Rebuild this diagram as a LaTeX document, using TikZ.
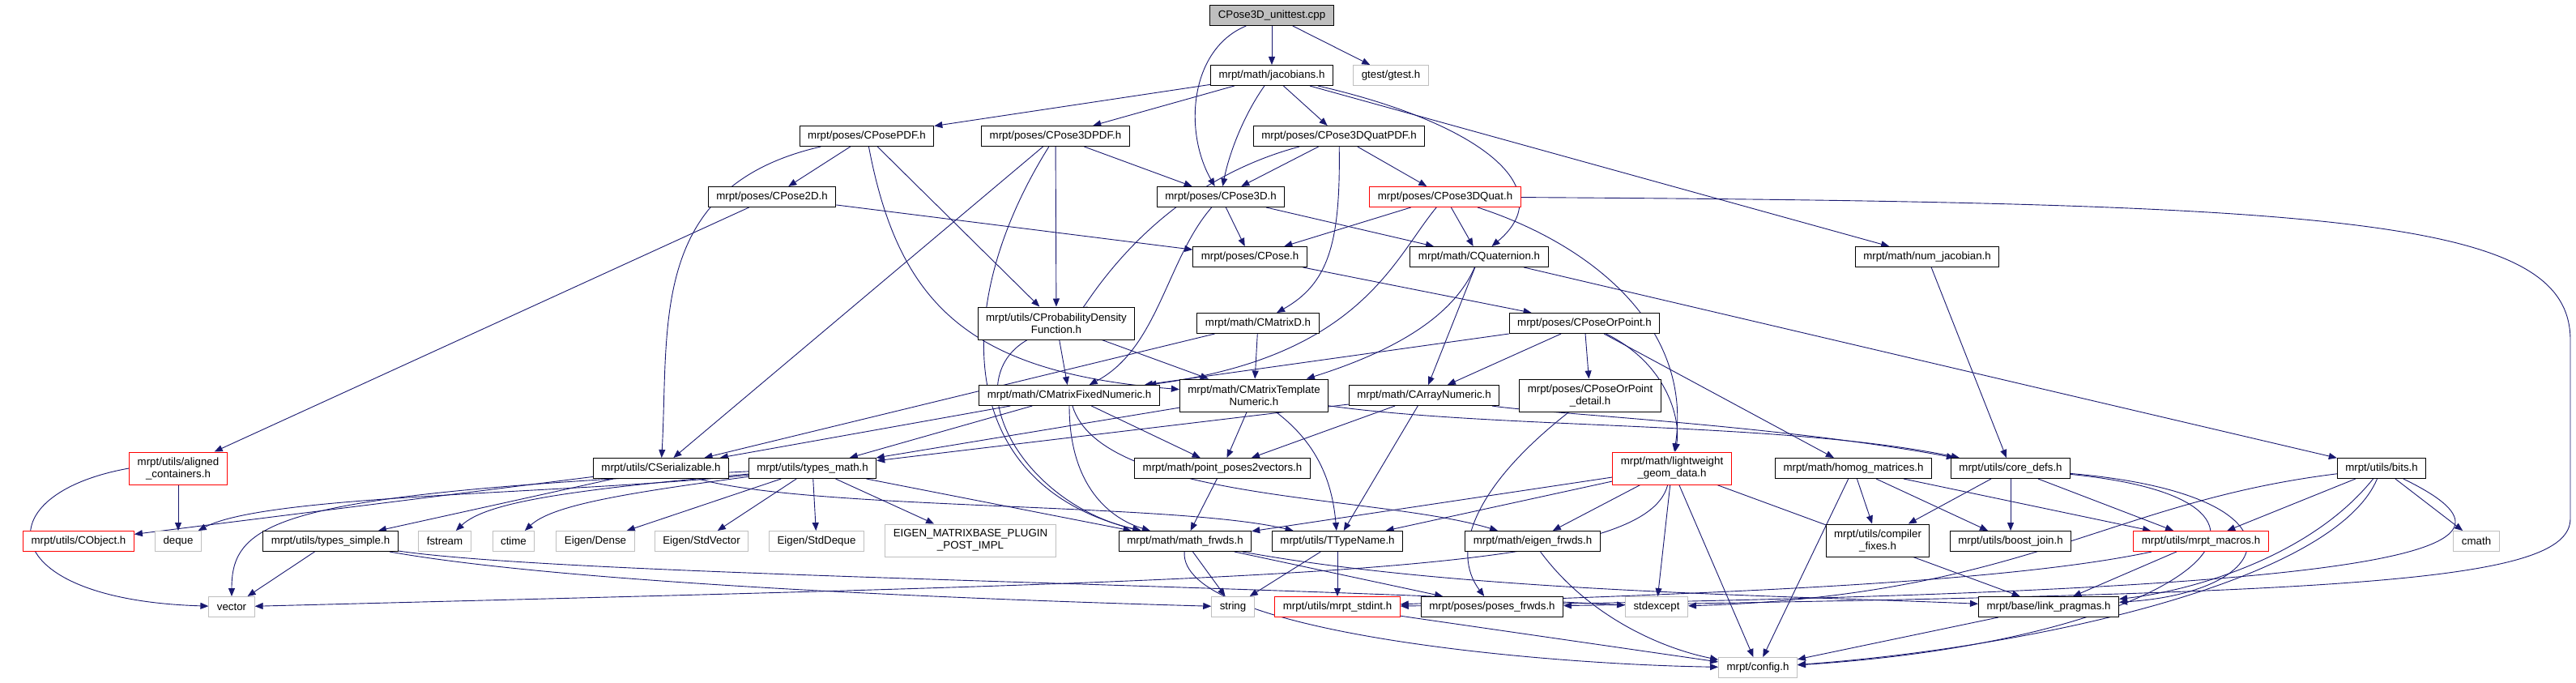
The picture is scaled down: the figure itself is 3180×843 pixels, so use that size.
\documentclass[tikz,border=0pt]{standalone}
\usepackage{fontspec}
\setmainfont{Liberation Sans}
\usetikzlibrary{arrows.meta}
\definecolor{edgeblue}{HTML}{191970}
\definecolor{sysgray}{HTML}{BFBFBF}
\pgfdeclarelayer{background}
\pgfsetlayers{background,main}
\begin{document}
\begin{tikzpicture}[x=1pt,y=-1pt,
  file/.style={draw=black,line width=1pt,fill=white,inner xsep=10pt,inner ysep=2pt,minimum height=25pt,align=center,font=\fontsize{13.3}{15}\selectfont},
  sysfile/.style={file,draw=sysgray},
  redfile/.style={file,draw=red},
  rootfile/.style={file,fill=sysgray},
  dep/.style={draw=edgeblue,line width=0.9pt,-{Triangle[length=10pt,width=8pt]}}]
\useasboundingbox (0,0) rectangle (3180,843);
\node[rootfile] (root) at (1570,19) {CPose3D\_unittest.cpp};
\node[file] (jac) at (1570,93) {mrpt/math/jacobians.h};
\node[sysfile] (gtest) at (1717,93) {gtest/gtest.h};
\node[file] (posepdf) at (1070,168) {mrpt/poses/CPosePDF.h};
\node[file] (pose3dpdf) at (1303,168) {mrpt/poses/CPose3DPDF.h};
\node[file] (quatpdf) at (1653,168) {mrpt/poses/CPose3DQuatPDF.h};
\node[file] (pose2d) at (953,243) {mrpt/poses/CPose2D.h};
\node[file] (pose3d) at (1507,243) {mrpt/poses/CPose3D.h};
\node[redfile] (pose3dquat) at (1784,243) {mrpt/poses/CPose3DQuat.h};
\node[file] (pose) at (1543,317) {mrpt/poses/CPose.h};
\node[file] (quat) at (1826,317) {mrpt/math/CQuaternion.h};
\node[file] (numjac) at (2379,317) {mrpt/math/num\_jacobian.h};
\node[file,minimum height=40pt] (probdens) at (1304,399) {mrpt/utils/CProbabilityDensity\\Function.h};
\node[file] (matd) at (1553,399) {mrpt/math/CMatrixD.h};
\node[file] (poseorpt) at (1956,399) {mrpt/poses/CPoseOrPoint.h};
\node[file] (matfixed) at (1320,488) {mrpt/math/CMatrixFixedNumeric.h};
\node[file,minimum height=40pt] (mattempl) at (1548,488) {mrpt/math/CMatrixTemplate\\Numeric.h};
\node[file] (arraynum) at (1758,488) {mrpt/math/CArrayNumeric.h};
\node[file,minimum height=40pt] (poseorptdet) at (1963,488) {mrpt/poses/CPoseOrPoint\\\_detail.h};
\node[redfile,minimum height=40pt] (aligned) at (220,578) {mrpt/utils/aligned\\\_containers.h};
\node[file] (serial) at (816,578) {mrpt/utils/CSerializable.h};
\node[file] (typesmath) at (1003,578) {mrpt/utils/types\_math.h};
\node[file] (pp2v) at (1509,578) {mrpt/math/point\_poses2vectors.h};
\node[redfile,minimum height=40pt] (lwgeom) at (2064,578) {mrpt/math/lightweight\\\_geom\_data.h};
\node[file] (homog) at (2288,578) {mrpt/math/homog\_matrices.h};
\node[file] (coredefs) at (2482,578) {mrpt/utils/core\_defs.h};
\node[file] (bits) at (2940,578) {mrpt/utils/bits.h};
\node[redfile] (cobject) at (97,668) {mrpt/utils/CObject.h};
\node[sysfile] (deque) at (220,668) {deque};
\node[file] (typessimple) at (408,668) {mrpt/utils/types\_simple.h};
\node[sysfile] (fstream) at (549,668) {fstream};
\node[sysfile] (ctime) at (634,668) {ctime};
\node[sysfile] (dense) at (735,668) {Eigen/Dense};
\node[sysfile] (stdvector) at (866,668) {Eigen/StdVector};
\node[sysfile] (stddeque) at (1008,668) {Eigen/StdDeque};
\node[sysfile,minimum height=40pt] (plugin) at (1198,667) {EIGEN\_MATRIXBASE\_PLUGIN\\\_POST\_IMPL};
\node[file] (mathfrwds) at (1463,668) {mrpt/math/math\_frwds.h};
\node[file] (ttypename) at (1651,668) {mrpt/utils/TTypeName.h};
\node[file] (eigenfrwds) at (1892,668) {mrpt/math/eigen\_frwds.h};
\node[file,minimum height=40pt] (compfix) at (2318,667) {mrpt/utils/compiler\\\_fixes.h};
\node[file] (boostjoin) at (2482,668) {mrpt/utils/boost\_join.h};
\node[redfile] (macros) at (2717,668) {mrpt/utils/mrpt\_macros.h};
\node[sysfile] (cmath) at (3057,668) {cmath};
\node[sysfile] (vector) at (286,749) {vector};
\node[sysfile] (string) at (1522,749) {string};
\node[redfile] (stdint) at (1651,749) {mrpt/utils/mrpt\_stdint.h};
\node[file] (posesfrwds) at (1842,749) {mrpt/poses/poses\_frwds.h};
\node[sysfile] (stdexcept) at (2045,749) {stdexcept};
\node[file] (linkprag) at (2529,749) {mrpt/base/link\_pragmas.h};
\node[sysfile] (config) at (2170,824) {mrpt/config.h};
\coordinate (rq1) at (3173,420);
\coordinate (rq2) at (3173,640);
\begin{pgfonlayer}{background}
\draw[dep] (root) -- (jac);
\draw[dep] (root) -- (gtest);
\draw[dep] (root) .. controls (1470,60) and (1460,160) .. (pose3d);
\draw[dep] (jac) -- (posepdf);
\draw[dep] (jac) -- (pose3dpdf);
\draw[dep] (jac) .. controls (1530,150) and (1515,200) .. (pose3d);
\draw[dep] (jac) -- (quatpdf);
\draw[dep] (jac) .. controls (1820,150) and (1930,230) .. (quat);
\draw[dep] (jac) -- (numjac);
\draw[dep] (posepdf) -- (pose2d);
\draw[dep] (posepdf) .. controls (800,230) and (826,400) .. (serial);
\draw[dep] (posepdf) -- (probdens);
\draw[dep] (posepdf) .. controls (1110,380) and (1200,460) .. (mattempl);
\draw[dep] (pose3dpdf) -- (pose3d);
\draw[dep] (pose3dpdf) -- (probdens);
\draw[dep] (pose3dpdf) -- (serial);
\draw[dep] (pose3dpdf) .. controls (1170,380) and (1180,600) .. (mathfrwds);
\draw[dep] (quatpdf) -- (pose3d);
\draw[dep] (quatpdf) -- (pose3dquat);
\draw[dep] (quatpdf) .. controls (1420,230) and (1340,380) .. (probdens);
\draw[dep] (quatpdf) .. controls (1655,300) and (1640,350) .. (matd);
\draw[dep] (pose3d) -- (pose);
\draw[dep] (pose3d) -- (quat);
\draw[dep] (pose3d) .. controls (1440,320) and (1430,430) .. (matfixed);
\draw[dep] (pose3dquat) -- (pose);
\draw[dep] (pose3dquat) -- (quat);
\draw[dep] (pose3dquat) .. controls (1720,320) and (1680,440) .. (matfixed);
\draw[dep] (pose3dquat) .. controls (1960,300) and (2090,400) .. (lwgeom);
\draw[dep] (pose3dquat) .. controls (2900,250) and (3173,270) .. (rq1) -- (rq2) .. controls (3173,720) and (2900,732) .. (posesfrwds);
\draw[dep] (pose2d) -- (pose);
\draw[dep] (pose2d) -- (aligned);
\draw[dep] (pose) -- (poseorpt);
\draw[dep] (quat) .. controls (1790,400) and (1700,440) .. (mattempl);
\draw[dep] (quat) -- (arraynum);
\draw[dep] (quat) -- (bits);
\draw[dep] (numjac) -- (coredefs);
\draw[dep] (probdens) -- (matfixed);
\draw[dep] (probdens) -- (mattempl);
\draw[dep] (probdens) .. controls (1180,470) and (1260,620) .. (mathfrwds);
\draw[dep] (matd) -- (serial);
\draw[dep] (matd) -- (mattempl);
\draw[dep] (poseorpt) -- (matfixed);
\draw[dep] (poseorpt) -- (arraynum);
\draw[dep] (poseorpt) -- (poseorptdet);
\draw[dep] (poseorpt) .. controls (2060,450) and (2075,520) .. (lwgeom);
\draw[dep] (poseorpt) -- (homog);
\draw[dep] (matfixed) -- (serial);
\draw[dep] (matfixed) -- (typesmath);
\draw[dep] (matfixed) -- (pp2v);
\draw[dep] (matfixed) .. controls (1320,600) and (1370,640) .. (mathfrwds);
\draw[dep] (matfixed) .. controls (1360,620) and (1700,610) .. (eigenfrwds);
\draw[dep] (mattempl) -- (typesmath);
\draw[dep] (mattempl) -- (pp2v);
\draw[dep] (mattempl) .. controls (1630,550) and (1645,600) .. (ttypename);
\draw[dep] (mattempl) .. controls (1850,530) and (2200,520) .. (coredefs);
\draw[dep] (arraynum) -- (typesmath);
\draw[dep] (arraynum) -- (pp2v);
\draw[dep] (arraynum) -- (ttypename);
\draw[dep] (arraynum) .. controls (1900,510) and (2200,525) .. (coredefs);
\draw[dep] (poseorptdet) .. controls (1820,600) and (1790,680) .. (posesfrwds);
\draw[dep] (aligned.west) .. controls (-20,610) and (-10,740) .. (vector);
\draw[dep] (aligned) -- (deque);
\draw[dep] (serial) -- (cobject);
\draw[dep] (serial) -- (typessimple);
\draw[dep] (serial) .. controls (1000,630) and (1450,620) .. (ttypename);
\draw[dep] (typesmath) .. controls (700,610) and (330,610) .. (deque);
\draw[dep] (typesmath) .. controls (350,610) and (286,640) .. (vector);
\draw[dep] (typesmath) .. controls (700,605) and (600,620) .. (fstream);
\draw[dep] (typesmath) .. controls (760,610) and (680,625) .. (ctime);
\draw[dep] (typesmath) -- (dense);
\draw[dep] (typesmath) -- (stdvector);
\draw[dep] (typesmath) -- (stddeque);
\draw[dep] (typesmath) -- (plugin);
\draw[dep] (typesmath) -- (mathfrwds);
\draw[dep] (pp2v) -- (mathfrwds);
\draw[dep] (lwgeom) -- (mathfrwds);
\draw[dep] (lwgeom) -- (ttypename);
\draw[dep] (lwgeom) -- (eigenfrwds);
\draw[dep] (lwgeom) -- (stdexcept);
\draw[dep] (lwgeom) -- (config);
\draw[dep] (lwgeom) -- (linkprag);
\draw[dep] (lwgeom) .. controls (2030,710) and (1600,715) .. (vector);
\draw[dep] (homog) -- (compfix);
\draw[dep] (homog) -- (boostjoin);
\draw[dep] (homog) -- (macros);
\draw[dep] (homog) -- (config);
\draw[dep] (coredefs) -- (compfix);
\draw[dep] (coredefs) -- (boostjoin);
\draw[dep] (coredefs) -- (macros);
\draw[dep] (coredefs) .. controls (2850,610) and (2820,730) .. (linkprag);
\draw[dep] (coredefs) .. controls (2900,620) and (2700,790) .. (config);
\draw[dep] (bits) -- (macros);
\draw[dep] (bits) -- (cmath);
\draw[dep] (bits) .. controls (2880,720) and (2500,800) .. (config);
\draw[dep] (bits) .. controls (2850,690) and (2700,730) .. (linkprag);
\draw[dep] (bits) .. controls (2600,620) and (2500,735) .. (stdexcept);
\draw[dep] (bits) .. controls (3150,680) and (3000,732) .. (stdint);
\draw[dep] (macros) -- (linkprag);
\draw[dep] (macros) .. controls (2450,725) and (2000,735) .. (stdint);
\draw[dep] (linkprag) -- (config);
\draw[dep] (mathfrwds) -- (string);
\draw[dep] (mathfrwds) .. controls (1455,780) and (1900,820) .. (config);
\draw[dep] (mathfrwds) -- (posesfrwds);
\draw[dep] (mathfrwds) .. controls (1800,730) and (2200,735) .. (linkprag);
\draw[dep] (ttypename) -- (string);
\draw[dep] (ttypename) -- (stdint);
\draw[dep] (eigenfrwds) .. controls (1960,760) and (2050,800) .. (config);
\draw[dep] (stdint) -- (config);
\draw[dep] (typessimple) -- (vector);
\draw[dep] (typessimple) .. controls (700,720) and (1200,740) .. (string);
\draw[dep] (typessimple) .. controls (700,710) and (1500,720) .. (stdexcept);
\end{pgfonlayer}
\end{tikzpicture}
\end{document}
